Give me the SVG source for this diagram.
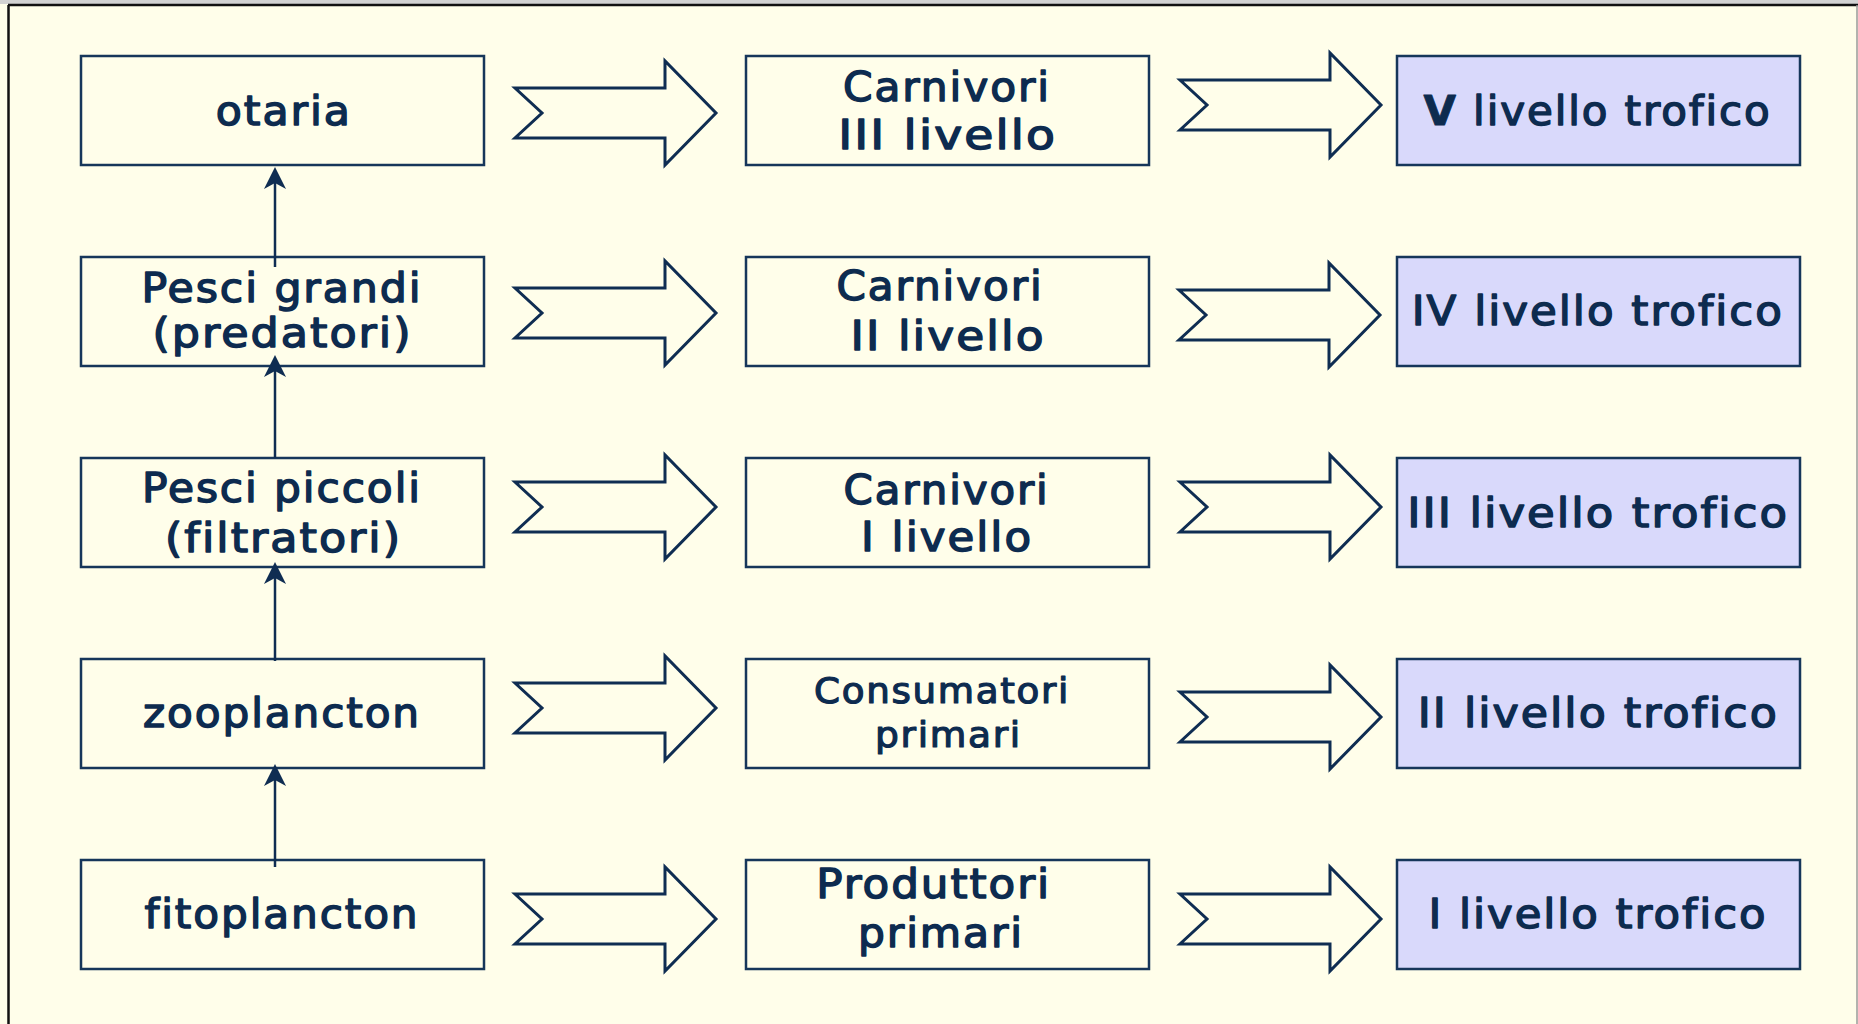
<svg xmlns="http://www.w3.org/2000/svg" xmlns:xlink="http://www.w3.org/1999/xlink" width="1858" height="1024" viewBox="0 0 1858 1024">
  <defs>
    <style>
      .box { fill: #fffeea; stroke: #16365a; stroke-width: 2.5; }
      .lvl { fill: #d9d9fb; stroke: #16365a; stroke-width: 2.5; }
      .t { font-family: "DejaVu Sans", Verdana, sans-serif; font-weight: normal; font-size: 40px; letter-spacing: 1.8px; fill: #0d2b4f; stroke: #0d2b4f; stroke-width: 1.4; stroke-linejoin: round; text-anchor: middle; }
      .ts { font-size: 35.5px; stroke-width: 1.2; letter-spacing: 1.6px; }
      .bv { font-weight: bold; stroke-width: 0.8; }
      .big { fill: #fffeea; stroke: #0f2d52; stroke-width: 3; stroke-linejoin: miter; }
      .vline { stroke: #0f2d52; stroke-width: 2.5; fill: none; }
      .vhead { fill: #0f2d52; stroke: none; }
    </style>
    <path id="blk" d="M0,-25 H150 V-52 L201,0 L150,52 V25 H0 L27,0 Z"/>
  </defs>

  <rect x="0" y="0" width="1858" height="1024" fill="#fffeea"/>
  <rect x="0" y="0" width="1858" height="4" fill="#d2d2d2"/>
  <line x1="8" y1="5" x2="1858" y2="5" stroke="#111" stroke-width="2.5"/>
  <line x1="8.5" y1="5" x2="8.5" y2="1024" stroke="#111" stroke-width="2.5"/>
  <line x1="1857" y1="5" x2="1857" y2="1024" stroke="#9a9a9a" stroke-width="1.5"/>

  <g id="connectors">
    <use xlink:href="#blk" class="big" transform="translate(515,113)"/>
    <use xlink:href="#blk" class="big" transform="translate(515,313)"/>
    <use xlink:href="#blk" class="big" transform="translate(515,507)"/>
    <use xlink:href="#blk" class="big" transform="translate(515,708)"/>
    <use xlink:href="#blk" class="big" transform="translate(515,919)"/>
    <use xlink:href="#blk" class="big" transform="translate(1180,105)"/>
    <use xlink:href="#blk" class="big" transform="translate(1179,315)"/>
    <use xlink:href="#blk" class="big" transform="translate(1180,507)"/>
    <use xlink:href="#blk" class="big" transform="translate(1180,717)"/>
    <use xlink:href="#blk" class="big" transform="translate(1180,919)"/>
  </g>

  <g id="n-otaria"><rect class="box" x="81" y="56" width="403" height="109"/><text class="t" x="283.8" y="125" textLength="136" lengthAdjust="spacingAndGlyphs">otaria</text></g>
  <g id="n-pescigrandi"><rect class="box" x="81" y="257" width="403" height="109"/><text class="t" x="282" y="302" textLength="281" lengthAdjust="spacingAndGlyphs">Pesci grandi</text><text class="t" x="282.5" y="347" textLength="260" lengthAdjust="spacingAndGlyphs">(predatori)</text></g>
  <g id="n-pescipiccoli"><rect class="box" x="81" y="458" width="403" height="109"/><text class="t" x="282" y="502" textLength="280" lengthAdjust="spacingAndGlyphs">Pesci piccoli</text><text class="t" x="283.5" y="552" textLength="237" lengthAdjust="spacingAndGlyphs">(filtratori)</text></g>
  <g id="n-zooplancton"><rect class="box" x="81" y="659" width="403" height="109"/><text class="t" x="282" y="727" textLength="278" lengthAdjust="spacingAndGlyphs">zooplancton</text></g>
  <g id="n-fitoplancton"><rect class="box" x="81" y="860" width="403" height="109"/><text class="t" x="282" y="928" textLength="275" lengthAdjust="spacingAndGlyphs">fitoplancton</text></g>

  <g id="n-carn3"><rect class="box" x="746" y="56" width="403" height="109"/><text class="t" x="947" y="101" textLength="208" lengthAdjust="spacingAndGlyphs">Carnivori</text><text class="t" x="947.7" y="149" textLength="219" lengthAdjust="spacingAndGlyphs">III livello</text></g>
  <g id="n-carn2"><rect class="box" x="746" y="257" width="403" height="109"/><text class="t" x="940" y="299.5" textLength="207" lengthAdjust="spacingAndGlyphs">Carnivori</text><text class="t" x="948" y="350" textLength="195" lengthAdjust="spacingAndGlyphs">II livello</text></g>
  <g id="n-carn1"><rect class="box" x="746" y="458" width="403" height="109"/><text class="t" x="946.6" y="503.5" textLength="206" lengthAdjust="spacingAndGlyphs">Carnivori</text><text class="t" x="947" y="551" textLength="172" lengthAdjust="spacingAndGlyphs">I livello</text></g>
  <g id="n-consumatori"><rect class="box" x="746" y="659" width="403" height="109"/><text class="t ts" x="942" y="703" textLength="256" lengthAdjust="spacingAndGlyphs">Consumatori</text><text class="t ts" x="948.5" y="747" textLength="147" lengthAdjust="spacingAndGlyphs">primari</text></g>
  <g id="n-produttori"><rect class="box" x="746" y="860" width="403" height="109"/><text class="t" x="933.7" y="898" textLength="235" lengthAdjust="spacingAndGlyphs">Produttori</text><text class="t" x="941" y="947" textLength="166" lengthAdjust="spacingAndGlyphs">primari</text></g>

  <g id="n-lv5"><rect class="lvl" x="1397" y="56" width="403" height="109"/><text class="t" x="1597.5" y="125" textLength="348" lengthAdjust="spacingAndGlyphs"><tspan class="bv">V</tspan> livello trofico</text></g>
  <g id="n-lv4"><rect class="lvl" x="1397" y="257" width="403" height="109"/><text class="t" x="1597.8" y="325" textLength="372" lengthAdjust="spacingAndGlyphs">IV livello trofico</text></g>
  <g id="n-lv3"><rect class="lvl" x="1397" y="458" width="403" height="109"/><text class="t" x="1598.2" y="527" textLength="382" lengthAdjust="spacingAndGlyphs">III livello trofico</text></g>
  <g id="n-lv2"><rect class="lvl" x="1397" y="659" width="403" height="109"/><text class="t" x="1598.3" y="727" textLength="361" lengthAdjust="spacingAndGlyphs">II livello trofico</text></g>
  <g id="n-lv1"><rect class="lvl" x="1397" y="860" width="403" height="109"/><text class="t" x="1598" y="928" textLength="339" lengthAdjust="spacingAndGlyphs">I livello trofico</text></g>

  <g id="vertical-connectors">
    <line class="vline" x1="275" y1="267" x2="275" y2="180"/>
    <path class="vhead" d="M275,167 L286,189 L275,183 L264,189 Z"/>
    <line class="vline" x1="275" y1="458" x2="275" y2="368"/>
    <path class="vhead" d="M275,355 L286,377 L275,371 L264,377 Z"/>
    <line class="vline" x1="275" y1="661" x2="275" y2="575"/>
    <path class="vhead" d="M275,562 L286,584 L275,578 L264,584 Z"/>
    <line class="vline" x1="275" y1="867" x2="275" y2="777"/>
    <path class="vhead" d="M275,764 L286,786 L275,780 L264,786 Z"/>
  </g>
</svg>
